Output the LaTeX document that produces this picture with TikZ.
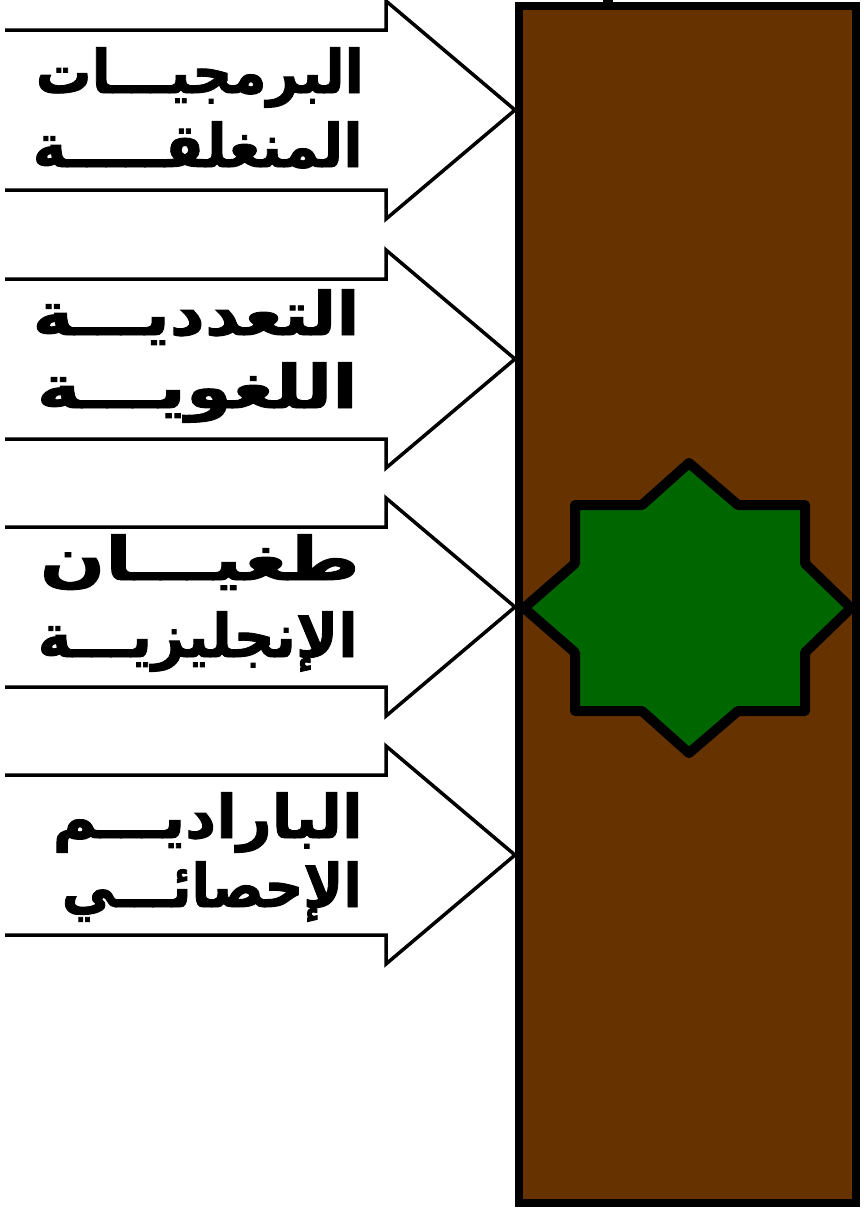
\documentclass[tikz,border=0pt]{standalone}
\usepackage{fontspec}
\usepackage{graphicx}
\newfontfamily\arabicfont[Script=Arabic,FakeBold=1.5]{DejaVu Sans Bold}
\TeXXeTstate=1
\newsavebox\linebox
\newcommand\fitline[2]{\sbox\linebox{\arabicfont\fontsize{60}{60}\selectfont\beginR #2\endR}\scalebox{\fpeval{#1/\the\wd\linebox}}[1]{\usebox\linebox}}
\definecolor{barbrown}{RGB}{102,51,0}
\definecolor{stargreen}{RGB}{0,102,0}
\tikzset{
  blockarrow/.style={draw=black, line width=3.5pt, miter limit=10},
  textline/.style={inner sep=0pt, anchor=base east},
}
\begin{document}
\begin{tikzpicture}[x=1pt,y=-1pt]
\useasboundingbox (0,0) rectangle (864,1208);
% bar
\fill[black] (603,0) rectangle (613,8);
\draw[line width=8pt, fill=barbrown] (519,6) rectangle (856,1203);
% star
\draw[line width=10pt, line join=round, fill=stargreen]
 (689,463) -- (738,505) -- (805,505) -- (805,563.5) -- (851,608) -- (805,652.5) -- (805,711) -- (738,711)
 -- (689,753) -- (642,711) -- (575,711) -- (575,652.5) -- (524,608) -- (575,563.5) -- (575,505) -- (642,505) -- cycle;
% arrows
\foreach \c in {110,359,607,855}{
  \draw[blockarrow] (5,\c-80) -- (386,\c-80) -- (386,\c-109) -- (515,\c) -- (386,\c+109) -- (386,\c+80) -- (5,\c+80);
}
% texts
\node[textline] (a1l1) at (364,93) {\fitline{328}{البرمجيـــات}};
\node[textline] (a1l2) at (363,167) {\fitline{330}{المنغلقـــــة}};
\node[textline] (a2l1) at (360,335) {\fitline{327}{التعدديـــة}};
\node[textline] (a2l2) at (358,408) {\fitline{321}{اللغويـــة}};
\node[textline] (a3l1) at (360,580) {\fitline{320}{طغيـــان}};
\node[textline] (a3l2) at (358,657) {\fitline{320}{الإنجليزيـــة}};
\node[textline] (a4l1) at (363,838) {\fitline{310}{الباراديـــم}};
\node[textline] (a4l2) at (362,907) {\fitline{300}{الإحصائـــي}};
\end{tikzpicture}
\end{document}
